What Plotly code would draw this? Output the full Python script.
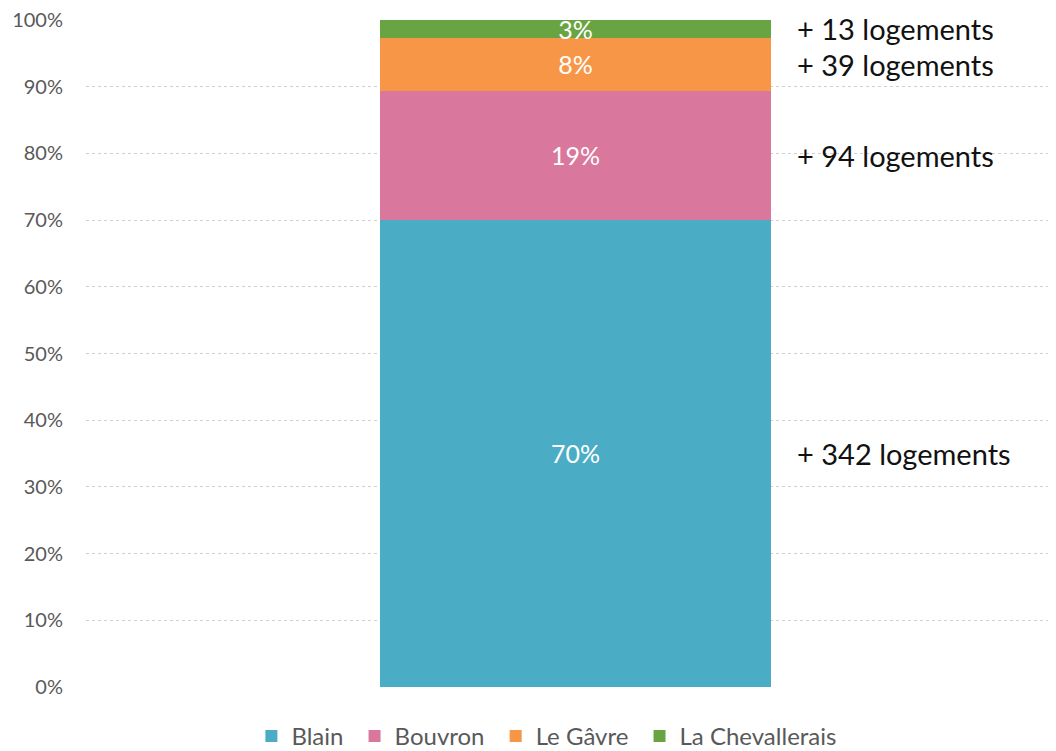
import plotly.graph_objects as go

communes = ["Blain", "Bouvron", "Le Gâvre", "La Chevallerais"]
logements = [342, 94, 39, 13]
colors = ["#4BACC6", "#D9789C", "#F79646", "#68A542"]
category = [""]
tick_values = list(range(0, 101, 10))
tick_labels = [f"{v}%" for v in tick_values]

total = sum(logements)
pcts = [v / total * 100 for v in logements]

FONT = "Lato, Carlito, Calibri, sans-serif"
BAR_W = 0.403
PAD = "\u00a0"  # extra spacing between legend entries

fig = go.Figure()
for name, p, c in zip(communes, pcts, colors):
    fig.add_trace(go.Bar(
        x=category, y=[p], name=name + PAD, marker=dict(color=c, line=dict(width=0)),
        width=BAR_W, text=[f"{round(p)}%"], textposition="inside",
        insidetextanchor="middle", constraintext="none",
        textfont=dict(family=FONT, size=25, color="white"),
        cliponaxis=False, hoverinfo="skip",
    ))

# annotations "+ N logements" beside each segment
cum = 0
for v, p in zip(logements, pcts):
    mid = cum + p / 2
    cum += p
    fig.add_annotation(x=0, y=mid, xref="x", yref="y", text=f"+ {v} logements",
                       showarrow=False, xanchor="left", yanchor="middle",
                       xshift=220, font=dict(family=FONT, size=29, color="#111111"))

# page body has an 8px margin: size the figure to fit the 1056x751 window
fig.update_layout(
    barmode="stack",
    width=1048, height=743,
    margin=dict(l=78, r=0, t=12, b=64, autoexpand=False),
    paper_bgcolor="white", plot_bgcolor="white",
    font=dict(family=FONT, color="#595959"),
    uniformtext=dict(minsize=25, mode="show"),
    showlegend=True,
    legend=dict(orientation="h", x=0.1705, xanchor="left", y=-0.074, yanchor="middle",
                font=dict(family=FONT, size=24, color="#595959"),
                itemwidth=30, tracegroupgap=0, traceorder="normal"),
    xaxis=dict(range=[-0.5046, 0.4954], showgrid=False, showticklabels=False,
               zeroline=False, showline=False, fixedrange=True, automargin=False),
    yaxis=dict(range=[0, 100], tickmode="array", tickvals=tick_values, ticktext=tick_labels,
               showgrid=True, gridcolor="#D0D0D0", griddash="dot", gridwidth=1,
               zeroline=False, showline=False, ticklabelstandoff=22, automargin=False,
               ticklabeloverflow="allow",
               tickfont=dict(family=FONT, size=20, color="#595959")),
)

fig.write_html("out.html")
